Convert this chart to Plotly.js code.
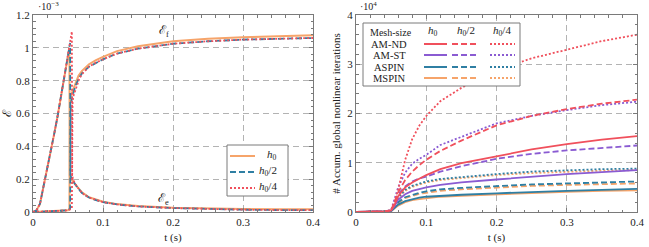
<!DOCTYPE html>
<html><head><meta charset="utf-8">
<script src="https://cdn.plot.ly/plotly-3.0.1.min.js"></script>
<style>html,body{margin:0;padding:0;background:#fff}#c{width:649px;height:247px}</style>
</head><body><div id="c"></div>
<script>
// ---------- left panel data (energy, units 1e-3) ----------
const tEe_h0  = [0,0.005,0.01,0.015,0.02,0.025,0.03,0.035,0.04,0.045,0.05,0.052,0.0525,0.055,0.06,0.07,0.08,0.09,0.1,0.12,0.15,0.2,0.25,0.3,0.35,0.4];
const Ee_h0   = [0,0.01,0.05,0.15,0.27,0.37,0.47,0.58,0.71,0.83,0.95,1.0,0.22,0.2,0.17,0.12,0.09,0.075,0.062,0.048,0.036,0.026,0.021,0.018,0.017,0.016];
const tEe_h02 = [0,0.005,0.01,0.015,0.02,0.025,0.03,0.035,0.04,0.045,0.05,0.053,0.0535,0.056,0.06,0.07,0.08,0.09,0.1,0.12,0.15,0.2,0.25,0.3,0.35,0.4];
const Ee_h02  = [0,0.01,0.05,0.15,0.27,0.37,0.47,0.58,0.71,0.83,0.95,1.03,0.22,0.2,0.17,0.115,0.088,0.072,0.06,0.046,0.034,0.024,0.018,0.014,0.012,0.011];
const tEe_h04 = [0,0.005,0.01,0.015,0.02,0.025,0.03,0.035,0.04,0.045,0.05,0.0555,0.056,0.058,0.062,0.07,0.08,0.09,0.1,0.12,0.15,0.2,0.25,0.3,0.35,0.4];
const Ee_h04  = [0,0.01,0.05,0.15,0.27,0.37,0.47,0.58,0.71,0.83,0.95,1.1,0.22,0.19,0.16,0.115,0.088,0.072,0.06,0.046,0.034,0.024,0.018,0.014,0.012,0.011];

const tEf_h0  = [0,0.05,0.052,0.0521,0.053,0.055,0.06,0.065,0.07,0.08,0.09,0.1,0.12,0.15,0.2,0.25,0.3,0.35,0.4];
const Ef_h0   = [0,0.01,0.02,0.64,0.69,0.72,0.78,0.83,0.86,0.9,0.925,0.945,0.98,1.01,1.04,1.055,1.065,1.071,1.076];
const tEf_h02 = [0,0.05,0.053,0.0531,0.054,0.056,0.06,0.065,0.07,0.08,0.09,0.1,0.12,0.15,0.2,0.25,0.3,0.35,0.4];
const Ef_h02  = [0,0.01,0.02,0.6,0.66,0.7,0.76,0.81,0.845,0.885,0.91,0.93,0.965,0.995,1.025,1.04,1.05,1.056,1.06];
const tEf_h04 = [0,0.05,0.0555,0.0556,0.0565,0.058,0.062,0.066,0.07,0.08,0.09,0.1,0.12,0.15,0.2,0.25,0.3,0.35,0.4];
const Ef_h04  = [0,0.01,0.02,0.6,0.67,0.71,0.765,0.81,0.84,0.885,0.91,0.93,0.965,0.995,1.025,1.04,1.05,1.056,1.06];

// ---------- right panel data (iterations, units 1e4) ----------
const tIt = [0,0.02,0.04,0.05,0.055,0.06,0.07,0.08,0.09,0.1,0.12,0.15,0.2,0.25,0.3,0.35,0.4];
const AMND_h0  = [0,0,0.01,0.03,0.15,0.32,0.5,0.6,0.68,0.75,0.87,0.99,1.13,1.27,1.38,1.47,1.54];
const AMND_h02 = [0,0,0.01,0.03,0.2,0.4,0.65,0.82,0.95,1.06,1.24,1.45,1.76,1.95,2.09,2.2,2.28];
const AMND_h04 = [0,0,0.01,0.04,0.2,0.45,1.06,1.48,1.75,1.95,2.25,2.52,2.88,3.12,3.3,3.47,3.6];
const AMST_h0  = [0,0,0.01,0.03,0.12,0.25,0.36,0.43,0.47,0.5,0.55,0.6,0.66,0.72,0.77,0.81,0.85];
const AMST_h02 = [0,0,0.01,0.03,0.18,0.36,0.52,0.62,0.68,0.72,0.82,0.93,1.08,1.18,1.25,1.3,1.35];
const AMST_h04 = [0,0,0.01,0.04,0.25,0.5,0.8,0.98,1.08,1.16,1.36,1.53,1.8,1.95,2.07,2.17,2.24];
const ASPIN_h0  = [0,0,0.01,0.02,0.08,0.15,0.22,0.26,0.29,0.31,0.33,0.35,0.38,0.41,0.43,0.45,0.47];
const ASPIN_h02 = [0,0,0.01,0.02,0.1,0.2,0.3,0.35,0.39,0.42,0.46,0.49,0.53,0.56,0.58,0.6,0.62];
const ASPIN_h04 = [0,0,0.01,0.03,0.15,0.3,0.45,0.53,0.58,0.62,0.67,0.71,0.77,0.82,0.85,0.87,0.88];
const MSPIN_h0  = [0,0,0.01,0.02,0.07,0.13,0.2,0.24,0.26,0.28,0.31,0.33,0.36,0.39,0.41,0.43,0.44];
const MSPIN_h02 = [0,0,0.01,0.02,0.09,0.18,0.28,0.33,0.37,0.39,0.43,0.46,0.5,0.53,0.55,0.57,0.58];
const MSPIN_h04 = [0,0,0.01,0.03,0.14,0.28,0.43,0.51,0.56,0.6,0.65,0.69,0.75,0.79,0.82,0.84,0.85];

const meshLabels = ['<i>h</i><sub>0</sub>','<i>h</i><sub>0</sub>/2','<i>h</i><sub>0</sub>/4'];
const methodLabels = ['AM-ND','AM-ST','ASPIN','MSPIN'];

// ---------- styles ----------
const C = {red:'#F0505C', purple:'#8A5BD2', blue:'#2F7FA3', orange:'#F6A46A'};
const DASH = ['solid','6px,3px','2px,2px'];
const W = 1.8;
const FONT = 'Liberation Serif, DejaVu Serif, serif';

const traces = [];
function add(x,y,color,dash,xa,ya,w){
  traces.push({x:x,y:y,type:'scatter',mode:'lines',xaxis:xa,yaxis:ya,showlegend:false,hoverinfo:'skip',
    line:{color:color,dash:dash,width:w||W}});
}
// left: h0 orange solid, h0/2 blue dashed, h0/4 red dotted
add(tEf_h0,Ef_h0,C.orange,DASH[0],'x','y',2);
add(tEe_h0,Ee_h0,C.orange,DASH[0],'x','y',2);
add(tEf_h02,Ef_h02,C.blue,DASH[1],'x','y');
add(tEe_h02,Ee_h02,C.blue,DASH[1],'x','y');
add(tEf_h04,Ef_h04,C.red,DASH[2],'x','y');
add(tEe_h04,Ee_h04,C.red,DASH[2],'x','y');

// right
const rightSeries = [
  [C.red,[AMND_h0,AMND_h02,AMND_h04]],
  [C.purple,[AMST_h0,AMST_h02,AMST_h04]],
  [C.blue,[ASPIN_h0,ASPIN_h02,ASPIN_h04]],
  [C.orange,[MSPIN_h0,MSPIN_h02,MSPIN_h04]]
];
for (let k=3;k>=0;k--){
  const [col,arrs]=rightSeries[k];
  arrs.forEach((a,i)=>add(tIt,a,col,DASH[i],'x2','y2'));
}

const px = v => v/649, py = v => 1 - v/247;
const GRID = '#a0a0a0', FRAME = '#7a7a7a';
const TF = {family:FONT,size:11,color:'#222'};
function axisX(dom){
  return {domain:dom,range:[0,0.4],tickvals:[0,0.1,0.2,0.3,0.4],ticktext:['0','0.1','0.2','0.3','0.4'],
    ticks:'inside',ticklen:4,tickcolor:FRAME,showline:true,linecolor:FRAME,linewidth:1,mirror:'allticks',
    showgrid:true,gridcolor:GRID,griddash:'6px,4px',gridwidth:0.8,zeroline:false,
    minor:{dtick:0.02,ticks:'inside',ticklen:2.5,tickcolor:FRAME,showgrid:false},
    tickfont:TF,
    title:{text:'t (s)',font:TF,standoff:6}};
}
function axisY(dom,range,vals,txt,minor,anchor){
  return {domain:dom,range:range,tickvals:vals,ticktext:txt,anchor:anchor,
    ticks:'inside',ticklen:4,tickcolor:FRAME,showline:true,linecolor:FRAME,linewidth:1,mirror:'allticks',
    showgrid:true,gridcolor:GRID,griddash:'6px,4px',gridwidth:0.8,zeroline:false,
    minor:{dtick:minor,ticks:'inside',ticklen:2.5,tickcolor:FRAME,showgrid:false},
    tickfont:TF};
}
const yDom=[35/247,232/247];
const layout = {
  width:649,height:247,margin:{l:0,r:0,t:0,b:0},paper_bgcolor:'#fff',plot_bgcolor:'#fff',
  showlegend:false,
  xaxis:axisX([33/649,313/649]),
  yaxis:Object.assign(axisY(yDom,[0,1.2],[0,0.2,0.4,0.6,0.8,1,1.2],['0','0.2','0.4','0.6','0.8','1','1.2'],0.04,'x'),
        {title:{text:'ℰ',font:{family:FONT,size:12,color:'#222'},standoff:4}}),
  xaxis2:Object.assign(axisX([356/649,637/649]),{anchor:'y2'}),
  yaxis2:Object.assign(axisY(yDom,[0,4],[0,1,2,3,4],['0','1','2','3','4'],0.2,'x2'),
        {title:{text:'# Accum. global nonlinear iterations',font:{family:FONT,size:11,color:'#222'},standoff:4}}),
  shapes:[],annotations:[]
};
layout.xaxis.anchor='y';
const A = layout.annotations, S = layout.shapes;
const tf = (s)=>({family:FONT,size:s,color:'#222'});
function note(x,y,text,size,xanchor){
  A.push({xref:'paper',yref:'paper',x:px(x),y:py(y),xanchor:xanchor||'center',yanchor:'middle',showarrow:false,text:text,font:tf(size)});
}
// exponents
note(36,6,'·10<sup>−3</sup>',10,'left');
note(358,6,'·10<sup>4</sup>',10,'left');
// curve labels
A.push({xref:'x',yref:'y',x:0.187,y:1.1,xanchor:'center',yanchor:'middle',showarrow:false,text:'ℰ<sub>f</sub>',font:tf(12)});
A.push({xref:'x',yref:'y',x:0.187,y:0.08,xanchor:'center',yanchor:'middle',showarrow:false,text:'ℰ<sub>e</sub>',font:tf(12)});

// left legend
S.push({type:'rect',xref:'paper',yref:'paper',x0:px(227),x1:px(288),y0:py(196),y1:py(145),line:{color:FRAME,width:1},fillcolor:'#fff',layer:'above'});
const lcols=[C.orange,C.blue,C.red], lys=[156,172,188];
lcols.forEach((c,i)=>{
  S.push({type:'line',xref:'paper',yref:'paper',x0:px(230),x1:px(255),y0:py(lys[i]),y1:py(lys[i]),line:{color:c,width:i==0?2:W,dash:DASH[i]},layer:'above'});
  note(i==0?272:268,lys[i]-1,meshLabels[i],11);
});

// right legend
S.push({type:'rect',xref:'paper',yref:'paper',x0:px(363),x1:px(520),y0:py(86),y1:py(23),line:{color:FRAME,width:1},fillcolor:'#fff',layer:'above'});
note(391,32,'Mesh-size',10);
const colX=[[424,447],[452,478],[490,515]];
const headX=[433,466,502];
meshLabels.forEach((m,i)=>note(headX[i],31,m,11));
const rys=[44,55,67,78];
methodLabels.forEach((m,k)=>{
  note(389,rys[k],m,10.5);
  colX.forEach((cx,i)=>S.push({type:'line',xref:'paper',yref:'paper',x0:px(cx[0]),x1:px(cx[1]),y0:py(rys[k]),y1:py(rys[k]),
    line:{color:rightSeries[k][0],width:2,dash:DASH[i]},layer:'above'}));
});

Plotly.newPlot('c',traces,layout,{staticPlot:true,displayModeBar:false});
</script></body></html>
